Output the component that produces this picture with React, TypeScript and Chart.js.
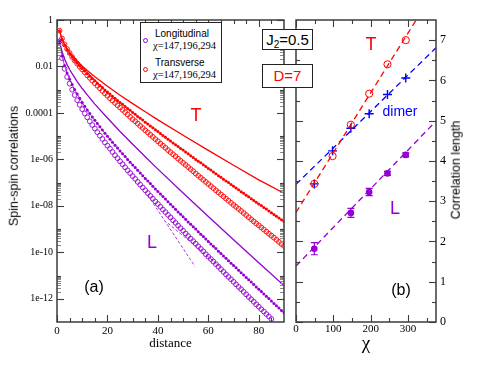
import React, { useEffect, useRef } from "react";
import { Chart, registerables } from "chart.js";

Chart.register(...registerables);

const RED = "#ff0000";
const PURPLE = "#9400d3";
const BLUE = "#0000ff";
const FRAME = "#3c3c3c";
const SERIF = "'Liberation Serif', 'DejaVu Serif', serif";
const SANS = "'Liberation Sans', Arial, sans-serif";

// ---------------- Left panel (a): correlations vs distance (values stored as log10) ----------------
const distances = [
  1, 2, 3, 4, 5, 6, 7, 8, 9, 10, 11, 12, 13, 14, 15, 16, 17, 18, 19, 20,
  21, 22, 23, 24, 25, 26, 27, 28, 29, 30, 31, 32, 33, 34, 35, 36, 37, 38, 39, 40,
  41, 42, 43, 44, 45, 46, 47, 48, 49, 50, 51, 52, 53, 54, 55, 56, 57, 58, 59, 60,
  61, 62, 63, 64, 65, 66, 67, 68, 69, 70, 71, 72, 73, 74, 75, 76, 77, 78, 79, 80,
  81, 82, 83, 84, 85, 86, 87, 88, 89, 90,
];
const solidDistances = [1, 2, 3, 4, 5, 6, 8, 10, 12, 15, 20, 25, 30, 35, 40, 50, 60, 70, 80, 90];
const transverseSolidLog10 = [
  -0.46, -0.82, -1.05, -1.24, -1.39, -1.53, -1.77, -1.98, -2.17, -2.44,
  -2.85, -3.24, -3.6, -3.95, -4.3, -4.96, -5.61, -6.25, -6.88, -7.46,
];
const longitudinalSolidLog10 = [
  -0.92, -1.37, -1.68, -1.92, -2.13, -2.31, -2.65, -2.95, -3.22, -3.62,
  -4.22, -4.8, -5.35, -5.89, -6.42, -7.45, -8.46, -9.46, -10.45, -11.43,
];
const transverseDotsLog10 = [
  -0.46, -0.83, -1.08, -1.27, -1.44, -1.59, -1.73, -1.86, -1.98, -2.09,
  -2.2, -2.31, -2.42, -2.52, -2.62, -2.72, -2.82, -2.91, -3.01, -3.1,
  -3.19, -3.28, -3.37, -3.46, -3.55, -3.63, -3.72, -3.81, -3.89, -3.98,
  -4.06, -4.15, -4.23, -4.31, -4.4, -4.48, -4.56, -4.64, -4.72, -4.8,
  -4.89, -4.97, -5.05, -5.13, -5.21, -5.29, -5.37, -5.45, -5.53, -5.6,
  -5.68, -5.76, -5.84, -5.92, -6.0, -6.08, -6.15, -6.23, -6.31, -6.39,
  -6.46, -6.54, -6.62, -6.7, -6.77, -6.85, -6.93, -7.0, -7.08, -7.16,
  -7.23, -7.31, -7.39, -7.46, -7.54, -7.61, -7.69, -7.77, -7.84, -7.92,
  -7.99, -8.07, -8.14, -8.22, -8.3, -8.37, -8.45, -8.52, -8.6, -8.67,
];
const transverseCirclesLog10 = [
  -0.46, -0.8, -1.05, -1.25, -1.42, -1.59, -1.74, -1.88, -2.01, -2.13,
  -2.25, -2.38, -2.49, -2.61, -2.72, -2.83, -2.94, -3.05, -3.16, -3.26,
  -3.37, -3.47, -3.57, -3.67, -3.77, -3.87, -3.97, -4.07, -4.17, -4.27,
  -4.36, -4.46, -4.56, -4.65, -4.75, -4.84, -4.94, -5.03, -5.13, -5.22,
  -5.32, -5.41, -5.5, -5.6, -5.69, -5.78, -5.87, -5.97, -6.06, -6.15,
  -6.24, -6.33, -6.42, -6.51, -6.61, -6.7, -6.79, -6.88, -6.97, -7.06,
  -7.15, -7.24, -7.33, -7.42, -7.51, -7.6, -7.69, -7.78, -7.87, -7.96,
  -8.04, -8.13, -8.22, -8.31, -8.4, -8.49, -8.58, -8.67, -8.76, -8.84,
  -8.93, -9.02, -9.11, -9.2, -9.28, -9.37, -9.46, -9.55, -9.64, -9.72,
];
const longitudinalDotsLog10 = [
  -0.92, -1.55, -1.96, -2.28, -2.55, -2.78, -2.99, -3.19, -3.37, -3.55,
  -3.71, -3.87, -4.03, -4.18, -4.32, -4.46, -4.6, -4.74, -4.87, -5.0,
  -5.13, -5.26, -5.39, -5.51, -5.64, -5.76, -5.88, -6.0, -6.12, -6.24,
  -6.35, -6.47, -6.59, -6.7, -6.82, -6.93, -7.04, -7.16, -7.27, -7.38,
  -7.49, -7.6, -7.71, -7.82, -7.93, -8.04, -8.15, -8.26, -8.36, -8.47,
  -8.58, -8.69, -8.79, -8.9, -9.0, -9.11, -9.22, -9.32, -9.43, -9.53,
  -9.64, -9.74, -9.84, -9.95, -10.05, -10.16, -10.26, -10.36, -10.47, -10.57,
  -10.67, -10.77, -10.88, -10.98, -11.08, -11.18, -11.28, -11.39, -11.49, -11.59,
  -11.69, -11.79, -11.89, -11.99, -12.1, -12.2, -12.3, -12.4, -12.5, -12.6,
];
const longitudinalCirclesLog10 = [
  -0.92, -1.64, -2.1, -2.45, -2.74, -3.0, -3.23, -3.45, -3.65, -3.84,
  -4.02, -4.19, -4.36, -4.52, -4.67, -4.83, -4.98, -5.12, -5.27, -5.41,
  -5.54, -5.68, -5.82, -5.95, -6.08, -6.21, -6.34, -6.47, -6.59, -6.72,
  -6.84, -6.97, -7.09, -7.21, -7.33, -7.45, -7.57, -7.69, -7.81, -7.92,
  -8.04, -8.16, -8.27, -8.39, -8.5, -8.62, -8.73, -8.85, -8.96, -9.07,
  -9.19, -9.3, -9.41, -9.52, -9.63, -9.74, -9.85, -9.96, -10.08, -10.19,
  -10.29, -10.4, -10.51, -10.62, -10.73, -10.84, -10.95, -11.06, -11.16, -11.27,
  -11.38, -11.49, -11.59, -11.7, -11.81, -11.92, -12.02, -12.13, -12.24, -12.34,
  -12.45, -12.55, -12.66, -12.76, -12.87,
];
const fitADistances = [36, 54.7];
const fitALog10 = [-7.54, -10.61];
const fitBDistances = [44, 64.6];
const fitBLog10 = [-8.75, -10.61];

const leftXTicks = [0, 20, 40, 60, 80];
const leftXMinor = [5, 10, 15, 25, 30, 35, 45, 50, 55, 65, 70, 75, 85];
const leftYTicks = [1e-12, 1e-10, 1e-8, 1e-6, 1e-4, 1e-2, 1];
const leftYTickLabels = ["1e-12", "1e-10", "1e-08", "1e-06", "0.0001", "0.01", "1"];
const leftYMinor = [1e-11, 1e-9, 1e-7, 1e-5, 1e-3, 1e-1];
const clusterDecades = [1e-12, 1e-10, 1e-8, 1e-6, 1e-4, 1e-2];
const clusterMultipliers = [2, 3, 4, 5, 6, 7, 8, 9];

// ---------------- Right panel (b): correlation length vs chi ----------------
const chi = [49, 98, 147, 196, 245, 294];
const transverseXi = [3.43, 4.12, 4.9, 5.67, 6.4, 7.0];
const dimerXi = [3.43, 4.25, 4.81, 5.17, 5.65, 6.06];
const chiL = [49, 147, 196, 245, 294];
const longitudinalXi = [1.82, 2.71, 3.23, 3.69, 4.15];
const longitudinalErr = [0.15, 0.11, 0.09, 0.05, 0.05];
const fitChi = [0, 375];
const transverseFit = [2.72, 8.29];
const dimerFit = [3.42, 6.81];
const longitudinalFit = [1.39, 4.99];

const rightXTicks = [0, 100, 200, 300];
const rightXMinor = [50, 150, 250, 350];
const rightYTicks = [0, 1, 2, 3, 4, 5, 6, 7];
const rightYMinor = [0.5, 1.5, 2.5, 3.5, 4.5, 5.5, 6.5];

const pts = (xs: number[], ys: number[]) => xs.slice(0, ys.length).map((x, i) => ({ x, y: ys[i] }));
const logPts = (xs: number[], ls: number[]) => xs.slice(0, ls.length).map((x, i) => ({ x, y: Math.pow(10, ls[i]) }));

function frameTicksPlugin(spec: {
  xMajor: number[];
  xMinor: number[];
  yMajor: number[];
  yMinor: number[];
  yFine?: number[];
}) {
  return {
    id: "frameTicks",
    afterDraw(chart: any) {
      const { ctx, chartArea: a } = chart;
      const xs = chart.scales.x;
      const ys = chart.scales.y;
      ctx.save();
      const seg = (x1: number, y1: number, x2: number, y2: number) => {
        ctx.beginPath();
        ctx.moveTo(x1, y1);
        ctx.lineTo(x2, y2);
        ctx.stroke();
      };
      const xTicks = (vals: number[], len: number) =>
        vals.forEach((v) => {
          const p = Math.round(xs.getPixelForValue(v)) + 0.5;
          seg(p, a.bottom, p, a.bottom - len);
          seg(p, a.top, p, a.top + len);
        });
      const yTicks = (vals: number[], len: number) =>
        vals.forEach((v) => {
          const p = Math.round(ys.getPixelForValue(v)) + 0.5;
          seg(a.left, p, a.left + len, p);
          seg(a.right, p, a.right - len, p);
        });
      ctx.lineWidth = 1;
      if (spec.yFine) {
        ctx.strokeStyle = "#8a8a8a";
        yTicks(spec.yFine, 4);
      }
      ctx.strokeStyle = FRAME;
      ctx.lineWidth = 1.1;
      xTicks(spec.xMajor, 7);
      xTicks(spec.xMinor, 4);
      yTicks(spec.yMajor, 7);
      yTicks(spec.yMinor, 4);
      ctx.lineWidth = 1.5;
      ctx.strokeRect(a.left, a.top, a.right - a.left, a.bottom - a.top);
      ctx.restore();
    },
  };
}

const errorBarPlugin = {
  id: "errorBars",
  afterDatasetsDraw(chart: any) {
    const { ctx } = chart;
    const x = chart.scales.x;
    const y = chart.scales.y;
    ctx.save();
    ctx.strokeStyle = PURPLE;
    ctx.lineWidth = 1.2;
    chiL.forEach((c, i) => {
      const px = x.getPixelForValue(c);
      const top = y.getPixelForValue(longitudinalXi[i] + longitudinalErr[i]);
      const bot = y.getPixelForValue(longitudinalXi[i] - longitudinalErr[i]);
      ctx.beginPath();
      ctx.moveTo(px, top);
      ctx.lineTo(px, bot);
      ctx.moveTo(px - 3.5, top);
      ctx.lineTo(px + 3.5, top);
      ctx.moveTo(px - 3.5, bot);
      ctx.lineTo(px + 3.5, bot);
      ctx.stroke();
    });
    ctx.restore();
  },
};

function leftConfig(): any {
  const fine: number[] = [];
  clusterDecades.forEach((d) => clusterMultipliers.forEach((m) => fine.push(d * m)));
  return {
    type: "scatter",
    data: {
      datasets: [
        {
          label: "fit A",
          data: logPts(fitADistances, fitALog10),
          showLine: true,
          borderColor: PURPLE,
          borderWidth: 0.8,
          borderDash: [3, 2],
          pointRadius: 0,
        },
        {
          label: "fit B",
          data: logPts(fitBDistances, fitBLog10),
          showLine: true,
          borderColor: PURPLE,
          borderWidth: 0.8,
          borderDash: [3, 2],
          pointRadius: 0,
        },
        {
          label: "Longitudinal χ=294",
          data: logPts(solidDistances, longitudinalSolidLog10),
          showLine: true,
          borderColor: PURPLE,
          borderWidth: 1.3,
          pointRadius: 0,
        },
        {
          label: "Longitudinal χ=196",
          data: logPts(distances, longitudinalDotsLog10),
          showLine: true,
          borderColor: PURPLE,
          borderWidth: 0.8,
          pointRadius: 1.5,
          pointBackgroundColor: PURPLE,
          pointBorderWidth: 0,
        },
        {
          label: "Longitudinal χ=147",
          data: logPts(distances, longitudinalCirclesLog10),
          showLine: false,
          pointRadius: 2.4,
          pointBorderColor: PURPLE,
          pointBackgroundColor: "rgba(255,255,255,0)",
          pointBorderWidth: 0.9,
        },
        {
          label: "Transverse χ=294",
          data: logPts(solidDistances, transverseSolidLog10),
          showLine: true,
          borderColor: RED,
          borderWidth: 1.3,
          pointRadius: 0,
        },
        {
          label: "Transverse χ=196",
          data: logPts(distances, transverseDotsLog10),
          showLine: true,
          borderColor: RED,
          borderWidth: 0.8,
          pointRadius: 1.5,
          pointBackgroundColor: RED,
          pointBorderWidth: 0,
        },
        {
          label: "Transverse χ=147",
          data: logPts(distances, transverseCirclesLog10),
          showLine: false,
          pointRadius: 2.4,
          pointBorderColor: RED,
          pointBackgroundColor: "rgba(255,255,255,0)",
          pointBorderWidth: 0.9,
        },
      ],
    },
    options: {
      responsive: false,
      animation: false,
      events: [],
      layout: { padding: { left: 0, top: 20, right: 6, bottom: 0 } },
      plugins: { legend: { display: false }, tooltip: { enabled: false } },
      scales: {
        x: {
          type: "linear",
          min: 0,
          max: 90,
          grid: { display: false, drawTicks: false },
          border: { display: false },
          afterBuildTicks: (s: any) => {
            s.ticks = leftXTicks.map((v) => ({ value: v }));
          },
          afterFit: (s: any) => {
            s.height = 57;
          },
          ticks: {
            autoSkip: false,
            maxRotation: 0,
            padding: 3,
            color: "#000",
            font: { family: SERIF, size: 11 },
            callback: (v: any) => String(v),
          },
        },
        y: {
          type: "logarithmic",
          min: 1e-13,
          max: 1,
          grid: { display: false, drawTicks: false },
          border: { display: false },
          afterBuildTicks: (s: any) => {
            s.ticks = leftYTicks.map((v) => ({ value: v }));
          },
          afterFit: (s: any) => {
            s.width = 57;
          },
          ticks: {
            autoSkip: false,
            padding: 4,
            color: "#000",
            font: { family: SERIF, size: 10 },
            callback: (_v: any, i: number) => leftYTickLabels[i],
          },
        },
      },
    },
    plugins: [
      frameTicksPlugin({ xMajor: leftXTicks, xMinor: leftXMinor, yMajor: leftYTicks, yMinor: leftYMinor, yFine: fine }),
    ],
  };
}

function rightConfig(): any {
  return {
    type: "scatter",
    data: {
      datasets: [
        {
          label: "T fit",
          data: pts(fitChi, transverseFit),
          showLine: true,
          borderColor: RED,
          borderWidth: 1.3,
          borderDash: [6, 4],
          pointRadius: 0,
        },
        {
          label: "dimer fit",
          data: pts(fitChi, dimerFit),
          showLine: true,
          borderColor: BLUE,
          borderWidth: 1.3,
          borderDash: [6, 4],
          pointRadius: 0,
        },
        {
          label: "L fit",
          data: pts(fitChi, longitudinalFit),
          showLine: true,
          borderColor: PURPLE,
          borderWidth: 1.3,
          borderDash: [6, 4],
          pointRadius: 0,
        },
        {
          label: "T",
          data: pts(chi, transverseXi),
          pointRadius: 3.6,
          pointBorderColor: RED,
          pointBackgroundColor: "rgba(255,255,255,0)",
          pointBorderWidth: 1,
        },
        {
          label: "dimer",
          data: pts(chi, dimerXi),
          pointStyle: "cross",
          pointRadius: 4.5,
          pointBorderColor: BLUE,
          pointBorderWidth: 1.4,
        },
        {
          label: "L",
          data: pts(chiL, longitudinalXi),
          pointRadius: 3.3,
          pointBorderColor: PURPLE,
          pointBackgroundColor: PURPLE,
          pointBorderWidth: 0,
        },
      ],
    },
    options: {
      responsive: false,
      animation: false,
      events: [],
      layout: { padding: { left: 6, top: 20, right: 0, bottom: 0 } },
      plugins: { legend: { display: false }, tooltip: { enabled: false } },
      scales: {
        x: {
          type: "linear",
          min: 0,
          max: 375,
          grid: { display: false, drawTicks: false },
          border: { display: false },
          afterBuildTicks: (s: any) => {
            s.ticks = rightXTicks.map((v) => ({ value: v }));
          },
          afterFit: (s: any) => {
            s.height = 57;
          },
          ticks: {
            autoSkip: false,
            maxRotation: 0,
            padding: 1,
            color: "#000",
            font: { family: SERIF, size: 11 },
            callback: (v: any) => String(v),
          },
        },
        y: {
          type: "linear",
          position: "right",
          min: 0,
          max: 7.5,
          grid: { display: false, drawTicks: false },
          border: { display: false },
          afterBuildTicks: (s: any) => {
            s.ticks = rightYTicks.map((v) => ({ value: v }));
          },
          afterFit: (s: any) => {
            s.width = 55;
          },
          ticks: {
            autoSkip: false,
            padding: 4,
            color: "#000",
            font: { family: SERIF, size: 12 },
            callback: (v: any) => String(v),
          },
        },
      },
    },
    plugins: [
      errorBarPlugin,
      frameTicksPlugin({ xMajor: rightXTicks, xMinor: rightXMinor, yMajor: rightYTicks, yMinor: rightYMinor }),
    ],
  };
}

const Txt = ({ x, y, align = "center", rotate = false, style, children }: any) => {
  const tx = align === "left" ? "0" : "-50%";
  return (
    <div
      style={{
        position: "absolute",
        left: x,
        top: y,
        transform: `translate(${tx}, -50%)${rotate ? " rotate(-90deg)" : ""}`,
        whiteSpace: "nowrap",
        lineHeight: 1,
        ...style,
      }}
    >
      {children}
    </div>
  );
};

const Marker = ({ x, y, color }: any) => (
  <div
    style={{
      position: "absolute",
      left: x - 2.5,
      top: y - 2.5,
      width: 5,
      height: 5,
      boxSizing: "border-box",
      border: `1px solid ${color}`,
      borderRadius: "50%",
    }}
  />
);

export default function App() {
  const leftRef = useRef<HTMLCanvasElement>(null);
  const rightRef = useRef<HTMLCanvasElement>(null);

  useEffect(() => {
    const c1 = new Chart(leftRef.current as HTMLCanvasElement, leftConfig());
    const c2 = new Chart(rightRef.current as HTMLCanvasElement, rightConfig());
    return () => {
      c1.destroy();
      c2.destroy();
    };
  }, []);

  return (
    <div
      style={{
        position: "absolute",
        left: 0,
        top: 0,
        width: 491,
        height: 379,
        background: "#fff",
        overflow: "hidden",
      }}
    >
      <canvas
        ref={leftRef}
        width={290}
        height={379}
        style={{ position: "absolute", left: 0, top: 0, width: 290, height: 379 }}
      />
      <canvas
        ref={rightRef}
        width={201}
        height={379}
        style={{ position: "absolute", left: 290, top: 0, width: 201, height: 379 }}
      />

      {/* axis titles */}
      <Txt x={14} y={166} rotate style={{ fontFamily: SANS, fontSize: 12.5 }}>
        Spin-spin correlations
      </Txt>
      <Txt x={170.5} y={342} style={{ fontFamily: SERIF, fontSize: 13 }}>
        distance
      </Txt>
      <Txt x={366} y={342} style={{ fontFamily: SERIF, fontSize: 19 }}>
        χ
      </Txt>
      <Txt x={456} y={170} rotate style={{ fontFamily: SANS, fontSize: 12.5 }}>
        Correlation length
      </Txt>

      {/* legend */}
      <div
        style={{
          position: "absolute",
          left: 140,
          top: 22,
          width: 82,
          height: 61,
          boxSizing: "border-box",
          border: "1px solid #222",
          background: "#fff",
        }}
      />
      <Marker x={145} y={40} color={PURPLE} />
      <Txt x={155} y={34} align="left" style={{ fontFamily: SANS, fontSize: 10 }}>
        Longitudinal
      </Txt>
      <Txt x={153} y={45.5} align="left" style={{ fontFamily: SERIF, fontSize: 10.5 }}>
        χ=147,196,294
      </Txt>
      <Marker x={145} y={69} color={RED} />
      <Txt x={155} y={63} align="left" style={{ fontFamily: SANS, fontSize: 10 }}>
        Transverse
      </Txt>
      <Txt x={153} y={74.5} align="left" style={{ fontFamily: SERIF, fontSize: 10.5 }}>
        χ=147,196,294
      </Txt>

      {/* parameter boxes */}
      <div
        style={{
          position: "absolute",
          left: 262,
          top: 29,
          width: 51,
          height: 21,
          boxSizing: "border-box",
          border: "1px solid #222",
          background: "#fff",
          fontFamily: SANS,
          fontSize: 15,
          lineHeight: "19px",
          textAlign: "center",
          whiteSpace: "nowrap",
        }}
      >
        J<sub style={{ fontSize: 10, verticalAlign: "-3px", lineHeight: 0 }}>2</sub>=0.5
      </div>
      <div
        style={{
          position: "absolute",
          left: 262,
          top: 64,
          width: 51,
          height: 24,
          boxSizing: "border-box",
          border: "1px solid #222",
          background: "#fff",
          fontFamily: SANS,
          fontSize: 15,
          lineHeight: "22px",
          textAlign: "center",
          color: RED,
        }}
      >
        D=7
      </div>

      {/* panel annotations */}
      <Txt x={196} y={115} style={{ fontFamily: SANS, fontSize: 18, color: RED }}>
        T
      </Txt>
      <Txt x={152} y={242} style={{ fontFamily: SANS, fontSize: 18, color: PURPLE }}>
        L
      </Txt>
      <Txt x={94} y={287} style={{ fontFamily: SANS, fontSize: 16 }}>
        (a)
      </Txt>
      <Txt x={371} y={44} style={{ fontFamily: SANS, fontSize: 18, color: RED }}>
        T
      </Txt>
      <Txt x={400} y={111} style={{ fontFamily: SANS, fontSize: 14, color: BLUE }}>
        dimer
      </Txt>
      <Txt x={395} y={208} style={{ fontFamily: SANS, fontSize: 18, color: PURPLE }}>
        L
      </Txt>
      <Txt x={401} y={290} style={{ fontFamily: SANS, fontSize: 16 }}>
        (b)
      </Txt>
    </div>
  );
}
